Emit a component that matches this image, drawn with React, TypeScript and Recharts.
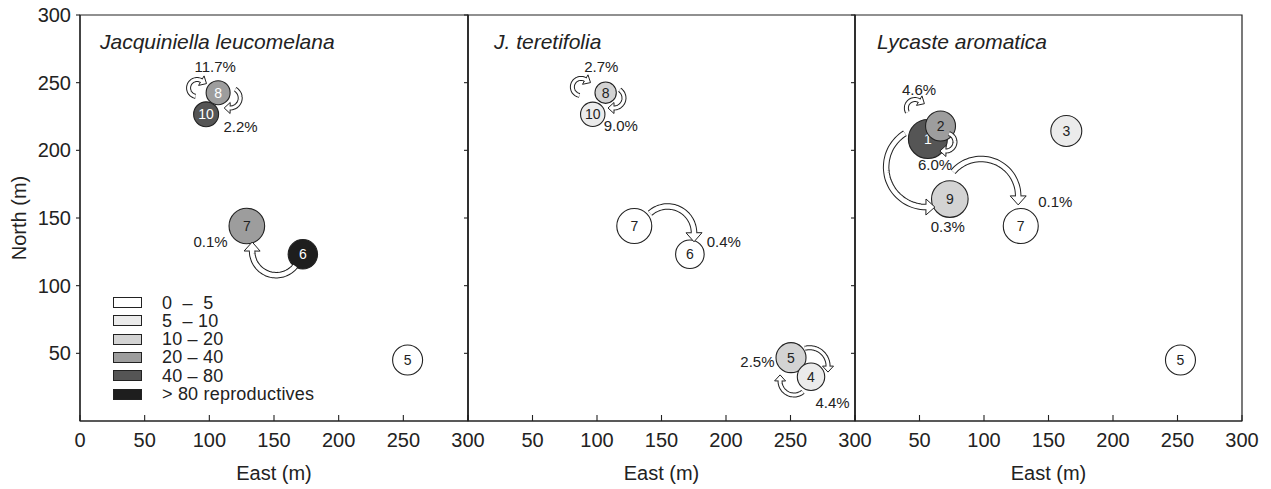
import React from 'react'
import { ScatterChart, Scatter, XAxis, YAxis, ZAxis, ReferenceArea, Legend, Label } from 'recharts'

const font = '"Liberation Sans", Arial, Helvetica, sans-serif'
const ink = '#222'

const species = ['Jacquiniella leucomelana', 'J. teretifolia', 'Lycaste aromatica']
const xTicks = [0, 50, 100, 150, 200, 250, 300]
const yTicks = [50, 100, 150, 200, 250, 300]

const classLabels = ['0  –  5', '5  – 10', '10 – 20', '20 – 40', '40 – 80', '> 80 reproductives']
const classColors = ['#ffffff', '#ebebeb', '#d3d3d3', '#9d9d9d', '#555555', '#1e1e1e']

// sites: east, north (m), z = relative bubble size, cls = reproductives class
const sitesJL = [
  { site: '10', x: 97.5, y: 226.6, z: 156, cls: 4 },
  { site: '8', x: 106.8, y: 242.6, z: 144, cls: 3 },
  { site: '7', x: 129, y: 144.1, z: 317, cls: 3 },
  { site: '6', x: 172.3, y: 123.2, z: 216, cls: 5 },
  { site: '5', x: 253.3, y: 45.1, z: 225, cls: 0 },
]
const sitesJT = [
  { site: '8', x: 106.7, y: 242.6, z: 114, cls: 2 },
  { site: '10', x: 96.7, y: 226.6, z: 149, cls: 1 },
  { site: '7', x: 128.9, y: 144.1, z: 306, cls: 0 },
  { site: '6', x: 172, y: 123.2, z: 204, cls: 0 },
  { site: '5', x: 250.4, y: 46.8, z: 225, cls: 2 },
  { site: '4', x: 265.9, y: 32.7, z: 188, cls: 1 },
]
const sitesLA = [
  { site: '1', x: 56.5, y: 208.4, z: 380, cls: 4 },
  { site: '2', x: 66.3, y: 218, z: 225, cls: 3 },
  { site: '9', x: 73.5, y: 164, z: 335, cls: 2 },
  { site: '3', x: 163.8, y: 214.3, z: 240, cls: 1 },
  { site: '7', x: 128.5, y: 144.1, z: 306, cls: 0 },
  { site: '5', x: 252.3, y: 45.1, z: 225, cls: 0 },
]

// dispersal arrows: start, end (m), arc angle (deg), clockwise
const arrowsJL = [
  { from: [89.4, 239.9], to: [93.8, 251.5], arc: 200, cw: true },
  { from: [120, 245.1], to: [116.1, 231.3], arc: 150, cw: true },
  { from: [166.4, 114.5], to: [133.1, 125.6], arc: 142, cw: true },
]
const arrowsJT = [
  { from: [86.4, 240.6], to: [90.9, 252.3], arc: 200, cw: true },
  { from: [117.6, 244.7], to: [113.2, 231.3], arc: 145, cw: true },
  { from: [141.1, 153.5], to: [175.2, 139.1], arc: 132, cw: true },
  { from: [261.2, 53.7], to: [279.1, 40.6], arc: 105, cw: true },
  { from: [259.7, 21.6], to: [241.9, 29.6], arc: 130, cw: true },
]
const arrowsLA = [
  { from: [40.7, 228.1], to: [49.8, 236.7], arc: 150, cw: true },
  { from: [72.9, 212.4], to: [70.5, 199.5], arc: 160, cw: true },
  { from: [38.7, 212.6], to: [55, 158.1], arc: 148, cw: false },
  { from: [76.1, 184.2], to: [126.5, 166.3], arc: 139, cw: true },
]

const pctJL = [
  { x: 104.5, y: 261.6, text: '11.7%' },
  { x: 124.2, y: 217.4, text: '2.2%' },
  { x: 101, y: 132.8, text: '0.1%' },
]
const pctJT = [
  { x: 103.3, y: 262.3, text: '2.7%' },
  { x: 118.5, y: 218, text: '9.0%' },
  { x: 198.3, y: 133, text: '0.4%' },
  { x: 224.4, y: 43.8, text: '2.5%' },
  { x: 282.6, y: 13.8, text: '4.4%' },
]
const pctLA = [
  { x: 49.6, y: 245.1, text: '4.6%' },
  { x: 62, y: 189.2, text: '6.0%' },
  { x: 72, y: 144, text: '0.3%' },
  { x: 155.3, y: 162, text: '0.1%' },
]

const lightNumbers = [['10', '8', '6'], [], ['1']]

const makeBubble = (light: string[]) => (p: any) => {
  const r = p.width ? p.width / 2 : Math.sqrt((p.size || 0) / Math.PI)
  const d = p.payload
  return (
    <g>
      <circle cx={p.cx} cy={p.cy} r={r} fill={classColors[d.cls]} stroke={ink} strokeWidth={1.1} />
      <text x={p.cx} y={p.cy} textAnchor="middle" dominantBaseline="central" fontSize={14} fontFamily={font} fill={light.includes(d.site) ? '#fff' : ink}>{d.site}</text>
    </g>
  )
}

const Nothing = () => <g />

const PctText = (p: any) => (
  <text x={p.cx} y={p.cy} textAnchor="middle" dominantBaseline="central" fontSize={15} fontFamily={font} fill={ink}>{p.payload.text}</text>
)

// hollow curved arrow along a circular arc between the two scaled points
const arrowLine = (arc: number, cw: boolean) => (props: any) => {
  const pts = props.points || []
  if (pts.length < 2) return <g />
  const a = pts[0], b = pts[1]
  const th = (arc * Math.PI) / 180
  const s = cw ? 1 : -1
  const dx = b.x - a.x, dy = b.y - a.y
  const d = Math.hypot(dx, dy)
  const r = d / (2 * Math.sin(th / 2))
  const h = r * Math.cos(th / 2)
  const cx = (a.x + b.x) / 2 + s * (-dy / d) * h
  const cy = (a.y + b.y) / 2 + s * (dx / d) * h
  const a0 = Math.atan2(a.y - cy, a.x - cx)
  const big = r > 20
  const band = big ? 6.5 : 5
  const hl = big ? 9 : 6
  const hw = big ? 8 : 5.5
  const path: number[][] = []
  for (let i = 0; i <= 40; i++) {
    const t = a0 + (s * th * i) / 40
    path.push([cx + r * Math.cos(t), cy + r * Math.sin(t)])
  }
  const ae = a0 + s * th
  const tx = -s * Math.sin(ae), ty = s * Math.cos(ae)
  const [ex, ey] = path[40]
  const tip = [ex + tx * hl, ey + ty * hl]
  const c1 = [ex - ty * hw, ey + tx * hw]
  const c2 = [ex + ty * hw, ey - tx * hw]
  const inner = [...path, [ex + tx * 1.5, ey + ty * 1.5]]
  const str = (q: number[][]) => q.map(v => v[0].toFixed(1) + ',' + v[1].toFixed(1)).join(' ')
  return (
    <g>
      <polygon points={str([tip, c1, c2])} fill="#fff" stroke={ink} strokeWidth={1} />
      <polyline points={str(path)} fill="none" stroke={ink} strokeWidth={band} />
      <polyline points={str(inner)} fill="none" stroke="#fff" strokeWidth={band - 2} />
    </g>
  )
}

// tick marks drawn with the labels: bottom ticks point inward
const makeXTick = (first: boolean) => (p: any) => {
  const v = p.payload.value
  return (
    <g>
      <line x1={p.x} x2={p.x} y1={p.y} y2={p.y - 6} stroke={ink} strokeWidth={1.1} />
      {(first || v !== 0) && (
        <text x={p.x} y={p.y + 25.5} textAnchor="middle" fontSize={20} fontFamily={font} fill={ink}>{v}</text>
      )}
    </g>
  )
}
const makeYTick = (first: boolean) => (p: any) => (
  <g>
    <line x1={p.x - 4} x2={p.x} y1={p.y} y2={p.y} stroke={ink} strokeWidth={1.1} />
    {first && (
      <text x={p.x - 9} y={p.y + 7} textAnchor="end" fontSize={20} fontFamily={font} fill={ink}>{p.payload.value}</text>
    )}
  </g>
)
const makeRightTick = (last: boolean) => (p: any) => (
  <line x1={p.x} x2={last ? p.x - 4 : p.x + 4} y1={p.y} y2={p.y} stroke={ink} strokeWidth={1.1} />
)

const NorthLabel = (p: any) => {
  const vb = p.viewBox || { x: 0, y: 15, height: 406 }
  const x = vb.x + 19, y = vb.y + vb.height / 2
  return (
    <text x={x} y={y} transform={`rotate(-90, ${x}, ${y})`} textAnchor="middle" dominantBaseline="central" fontSize={20} fontFamily={font} fill={ink}>North (m)</text>
  )
}

const speciesDx = [20, 26, 22]
const speciesLabel = (idx: number) => (p: any) => {
  const vb = p.viewBox || { x: 0, y: 15 }
  return (
    <text x={vb.x + speciesDx[idx]} y={vb.y + 33.5} fontSize={21} fontStyle="italic" fontFamily={font} fill={ink}>{species[idx]}</text>
  )
}

const LegendBox = () => (
  <div style={{ fontFamily: font, fontSize: 18, color: ink, lineHeight: '18.3px' }}>
    {classLabels.map((lab, i) => (
      <div key={lab} style={{ display: 'flex', alignItems: 'center', height: 18.3 }}>
        <span style={{ width: 27, height: 9, border: `1.2px solid ${ink}`, background: classColors[i], marginRight: 20 }} />
        <span style={{ whiteSpace: 'pre', letterSpacing: 0.2 }}>{lab}</span>
      </div>
    ))}
  </div>
)

function Panel({ idx, left, width, yWidth, sites, arrows, pcts }: any) {
  const first = idx === 0
  return (
    <div style={{ position: 'absolute', left, top: 0 }}>
      <ScatterChart width={width} height={489} margin={{ top: 15, right: 1, bottom: 0, left: 0 }}>
        <XAxis type="number" dataKey="x" domain={[0, 300]} allowDataOverflow ticks={xTicks} interval={0} height={68}
          tickSize={0} tickMargin={0} tickLine={false} tick={makeXTick(first)} axisLine={{ stroke: ink, strokeWidth: 1.2 }}>
          <Label value="East (m)" position="insideBottom" offset={9} fill={ink} fontSize={20} fontFamily={font} />
        </XAxis>
        <YAxis yAxisId="l" type="number" dataKey="y" domain={[0, 300]} allowDataOverflow ticks={yTicks} interval={0} width={yWidth}
          tickSize={0} tickMargin={0} tickLine={false} tick={makeYTick(first)} axisLine={{ stroke: ink, strokeWidth: 1.2 }}>
          {first && <Label content={NorthLabel} />}
        </YAxis>
        <YAxis yAxisId="r" orientation="right" type="number" dataKey="y" domain={[0, 300]} allowDataOverflow ticks={yTicks} interval={0} width={0}
          tickSize={0} tickMargin={0} tickLine={false} tick={makeRightTick(idx === 2)} axisLine={{ stroke: ink, strokeWidth: 1.2 }} />
        <ZAxis type="number" dataKey="z" domain={[0, 400]} range={[0, 400 * Math.PI]} />
        <ReferenceArea yAxisId="l" x1={0} x2={300} y1={0} y2={300} fill="none" stroke={ink} strokeWidth={1.2} label={speciesLabel(idx)} />
        <Scatter yAxisId="l" data={sites} shape={makeBubble(lightNumbers[idx])} isAnimationActive={false} />
        {arrows.map((a: any, i: number) => (
          <Scatter key={i} yAxisId="l" data={[{ x: a.from[0], y: a.from[1] }, { x: a.to[0], y: a.to[1] }]}
            shape={Nothing} line={arrowLine(a.arc, a.cw)} isAnimationActive={false} />
        ))}
        <Scatter yAxisId="r" data={pcts} shape={PctText} isAnimationActive={false} />
        {first && (
          <Legend layout="vertical" align="center" verticalAlign="middle" content={LegendBox}
            wrapperStyle={{ left: 113, top: 293.5, width: 220 }} />
        )}
      </ScatterChart>
    </div>
  )
}

export default function App() {
  return (
    <div style={{ position: 'absolute', left: 0, top: 0, width: 1271, height: 489, background: '#fff' }}>
      <style>{'.recharts-surface{overflow:visible}'}</style>
      <Panel idx={0} left={0} width={469} yWidth={80} sites={sitesJL} arrows={arrowsJL} pcts={pctJL} />
      <Panel idx={1} left={458} width={398} yWidth={10} sites={sitesJT} arrows={arrowsJT} pcts={pctJT} />
      <Panel idx={2} left={845} width={398} yWidth={10} sites={sitesLA} arrows={arrowsLA} pcts={pctLA} />
    </div>
  )
}
